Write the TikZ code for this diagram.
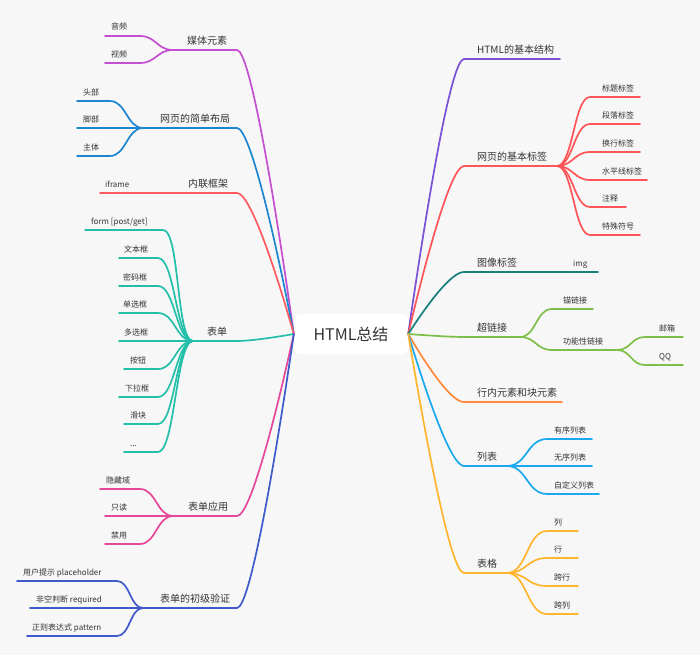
\documentclass[tikz,border=0pt]{standalone}
\usepackage{fontspec}
\setmainfont{Noto Sans CJK SC}
\definecolor{bg}{HTML}{F7F7F7}
\definecolor{txt}{HTML}{333333}
\definecolor{cmedia}{HTML}{C44FD0}
\definecolor{clayout}{HTML}{1E86CF}
\definecolor{ciframe}{HTML}{FF5A5F}
\definecolor{cform}{HTML}{22BFA9}
\definecolor{capp}{HTML}{E5489B}
\definecolor{cvalid}{HTML}{3F5BCB}
\definecolor{cstruct}{HTML}{7B4FD6}
\definecolor{ctags}{HTML}{FF5558}
\definecolor{cimage}{HTML}{17807E}
\definecolor{clink}{HTML}{7DBF48}
\definecolor{cinline}{HTML}{FF8A3D}
\definecolor{clist}{HTML}{1AA8EE}
\definecolor{ctable}{HTML}{FFB52E}
\tikzset{
  edge/.style={line width=1.7pt, line cap=round},
  leaf/.style={anchor=base west, inner sep=0pt, text=txt, font=\fontsize{8}{9}\selectfont},
  topic/.style={anchor=base west, inner sep=0pt, text=txt, font=\fontsize{10}{12}\selectfont},
  rootbox/.style={fill=white, rounded corners=6pt, minimum width=114pt, minimum height=40pt, inner sep=0pt, text=txt, font=\fontsize{16}{19}\selectfont}
}
\begin{document}
\begin{tikzpicture}[x=1pt,y=-1pt]
\useasboundingbox (0,0) rectangle (700,655);
\fill[bg] (0,0) rectangle (700,655);
\node[rootbox] (root) at (351,334) {HTML总结};

% ---------- LEFT ----------
% 媒体元素
\coordinate (mJ) at (173,50);
\coordinate (m1) at (105,36);
\coordinate (m2) at (105,63);
\draw[edge,cmedia] (root.west) .. controls (275,200.5) and (250,50) .. (237,50) -- (mJ);
\draw[edge,cmedia] (mJ) .. controls (157,50) and (156,36) .. (140,36) -- (m1);
\draw[edge,cmedia] (mJ) .. controls (157,50) and (156,63) .. (140,63) -- (m2);
\node[topic] (media) at (187,44.5) {媒体元素};
\node[leaf] (audio) at (111,30) {音频};
\node[leaf] (video) at (111,57.5) {视频};

% 网页的简单布局
\coordinate (lJ) at (143,128);
\coordinate (l1) at (77,101);
\coordinate (l2) at (77,128);
\coordinate (l3) at (77,156);
\draw[edge,clayout] (root.west) .. controls (275,237.2) and (250,128) .. (237,128) -- (lJ);
\draw[edge,clayout] (lJ) .. controls (127,128) and (126,101) .. (110,101) -- (l1);
\draw[edge,clayout] (lJ) -- (l2);
\draw[edge,clayout] (lJ) .. controls (127,128) and (126,156) .. (110,156) -- (l3);
\node[topic] (layout) at (160,122.5) {网页的简单布局};
\node[leaf] (head) at (83,95.5) {头部};
\node[leaf] (foot) at (83,122.5) {脚部};
\node[leaf] (body) at (83,150.5) {主体};

% 内联框架
\coordinate (iJ) at (180,193);
\coordinate (i1) at (100,193);
\draw[edge,ciframe] (root.west) .. controls (275,267.7) and (250,193) .. (237,193) -- (iJ);
\draw[edge,ciframe] (iJ) -- (i1);
\node[topic] (iframe) at (188,187.5) {内联框架};
\node[leaf] (iframeleaf) at (105,187.5) {iframe};

% 表单
\coordinate (fJ) at (193,341);
\coordinate (f1) at (85,230);
\coordinate (f2) at (119,258);
\coordinate (f3) at (119,286);
\coordinate (f4) at (119,313);
\coordinate (f5) at (119,341);
\coordinate (f6) at (124,369);
\coordinate (f7) at (119,397);
\coordinate (f8) at (124,424);
\coordinate (f9) at (124,452);
\draw[edge,cform] (root.west) .. controls (275,337.3) and (250,341) .. (237,341) -- (fJ);
\draw[edge,cform] (fJ) .. controls (176,341) and (180,230) .. (163,230) -- (f1);
\draw[edge,cform] (fJ) .. controls (176,341) and (175,258) .. (158,258) -- (f2);
\draw[edge,cform] (fJ) .. controls (176,341) and (175,286) .. (158,286) -- (f3);
\draw[edge,cform] (fJ) .. controls (176,341) and (175,313) .. (158,313) -- (f4);
\draw[edge,cform] (fJ) -- (f5);
\draw[edge,cform] (fJ) .. controls (176,341) and (175,369) .. (158,369) -- (f6);
\draw[edge,cform] (fJ) .. controls (176,341) and (175,397) .. (158,397) -- (f7);
\draw[edge,cform] (fJ) .. controls (176,341) and (175,424) .. (158,424) -- (f8);
\draw[edge,cform] (fJ) .. controls (176,341) and (175,452) .. (158,452) -- (f9);
\node[topic] (form) at (207,335.5) {表单};
\node[leaf] (fa) at (91,224.5) {form [post/get]};
\node[leaf] (fb) at (124,252.5) {文本框};
\node[leaf] (fc) at (123,280.5) {密码框};
\node[leaf] (fd) at (123,307.5) {单选框};
\node[leaf] (fe) at (124,335.5) {多选框};
\node[leaf] (ff) at (130,363.5) {按钮};
\node[leaf] (fg) at (125,391.5) {下拉框};
\node[leaf] (fh) at (130,418.5) {滑块};
\node[leaf] (fi) at (130,446.5) {...};

% 表单应用
\coordinate (aJ) at (173,516);
\coordinate (a1) at (100,489);
\coordinate (a2) at (105,516);
\coordinate (a3) at (105,544);
\draw[edge,capp] (root.west) .. controls (275,419.5) and (250,516) .. (237,516) -- (aJ);
\draw[edge,capp] (aJ) .. controls (157,516) and (156,489) .. (140,489) -- (a1);
\draw[edge,capp] (aJ) -- (a2);
\draw[edge,capp] (aJ) .. controls (157,516) and (156,544) .. (140,544) -- (a3);
\node[topic] (app) at (188,510.5) {表单应用};
\node[leaf] (hidden) at (106,483.5) {隐藏域};
\node[leaf] (readonly) at (111,510.5) {只读};
\node[leaf] (disabled) at (111,538.5) {禁用};

% 表单的初级验证
\coordinate (vJ) at (143,608);
\coordinate (v1) at (17,581);
\coordinate (v2) at (30,608);
\coordinate (v3) at (27,636);
\draw[edge,cvalid] (root.west) .. controls (275,462.8) and (250,608) .. (237,608) -- (vJ);
\draw[edge,cvalid] (vJ) .. controls (130,608) and (130,581) .. (117,581) -- (v1);
\draw[edge,cvalid] (vJ) -- (v2);
\draw[edge,cvalid] (vJ) .. controls (130,608) and (130,636) .. (117,636) -- (v3);
\node[topic] (valid) at (160,602.5) {表单的初级验证};
\node[leaf] (ph) at (23,575.5) {用户提示 placeholder};
\node[leaf] (req) at (36,602.5) {非空判断 required};
\node[leaf] (pat) at (32,630.5) {正则表达式 pattern};

% ---------- RIGHT ----------
% HTML的基本结构
\coordinate (sE) at (560,59);
\draw[edge,cstruct] (root.east) .. controls (427,204.7) and (451,59) .. (464,59) -- (sE);
\node[topic] (struct) at (477,53.5) {HTML的基本结构};

% 网页的基本标签
\coordinate (tJ) at (557,166);
\coordinate (t1) at (640,97);
\coordinate (t2) at (640,124);
\coordinate (t3) at (640,152);
\coordinate (t4) at (647,180);
\coordinate (t5) at (626,207);
\coordinate (t6) at (640,235);
\draw[edge,ctags] (root.east) .. controls (427,255) and (451,166) .. (464,166) -- (tJ);
\draw[edge,ctags] (tJ) .. controls (573,166) and (574,97) .. (590,97) -- (t1);
\draw[edge,ctags] (tJ) .. controls (573,166) and (574,124) .. (590,124) -- (t2);
\draw[edge,ctags] (tJ) .. controls (573,166) and (574,152) .. (590,152) -- (t3);
\draw[edge,ctags] (tJ) .. controls (573,166) and (574,180) .. (590,180) -- (t4);
\draw[edge,ctags] (tJ) .. controls (573,166) and (574,207) .. (590,207) -- (t5);
\draw[edge,ctags] (tJ) .. controls (573,166) and (574,235) .. (590,235) -- (t6);
\node[topic] (tags) at (477,160.5) {网页的基本标签};
\node[leaf] (ta) at (602,91.5) {标题标签};
\node[leaf] (tb) at (602,118.5) {段落标签};
\node[leaf] (tc) at (602,146.5) {换行标签};
\node[leaf] (td) at (602,174.5) {水平线标签};
\node[leaf] (te) at (602,201.5) {注释};
\node[leaf] (tf) at (602,229.5) {特殊符号};

% 图像标签
\coordinate (gJ) at (522,272);
\coordinate (g1) at (598,272);
\draw[edge,cimage] (root.east) .. controls (427,304.9) and (451,272) .. (464,272) -- (gJ);
\draw[edge,cimage] (gJ) -- (g1);
\node[topic] (image) at (477,266.5) {图像标签};
\node[leaf] (img) at (573,266.5) {img};

% 超链接
\coordinate (hJ) at (520,337);
\coordinate (h1) at (593,309);
\coordinate (hK) at (617,350);
\coordinate (k1) at (683,337);
\coordinate (k2) at (683,365);
\draw[edge,clink] (root.east) .. controls (427,335.4) and (451,337) .. (464,337) -- (hJ);
\draw[edge,clink] (hJ) .. controls (536,337) and (536,309) .. (552,309) -- (h1);
\draw[edge,clink] (hJ) .. controls (536,337) and (536,350) .. (552,350) -- (hK);
\draw[edge,clink] (hK) .. controls (631,350) and (631,337) .. (645,337) -- (k1);
\draw[edge,clink] (hK) .. controls (631,350) and (631,365) .. (645,365) -- (k2);
\node[topic] (link) at (477,331.5) {超链接};
\node[leaf] (anchor) at (563,303.5) {锚链接};
\node[leaf] (func) at (563,344.5) {功能性链接};
\node[leaf] (mail) at (659,331.5) {邮箱};
\node[leaf] (qq) at (659,359.5) {QQ};

% 行内元素和块元素
\coordinate (nE) at (562,402);
\draw[edge,cinline] (root.east) .. controls (427,366) and (451,402) .. (464,402) -- (nE);
\node[topic] (inline) at (477,396.5) {行内元素和块元素};

% 列表
\coordinate (lsJ) at (507,466);
\coordinate (ls1) at (592,439);
\coordinate (ls2) at (592,466);
\coordinate (ls3) at (599,494);
\draw[edge,clist] (root.east) .. controls (427,396) and (451,466) .. (464,466) -- (lsJ);
\draw[edge,clist] (lsJ) .. controls (527,466) and (527,439) .. (547,439) -- (ls1);
\draw[edge,clist] (lsJ) -- (ls2);
\draw[edge,clist] (lsJ) .. controls (527,466) and (527,494) .. (547,494) -- (ls3);
\node[topic] (list) at (477,460.5) {列表};
\node[leaf] (ol) at (554,433.5) {有序列表};
\node[leaf] (ul) at (554,460.5) {无序列表};
\node[leaf] (dl) at (554,488.5) {自定义列表};

% 表格
\coordinate (tbJ) at (507,573);
\coordinate (tb1) at (578,531);
\coordinate (tb2) at (578,558);
\coordinate (tb3) at (578,586);
\coordinate (tb4) at (578,614);
\draw[edge,ctable] (root.east) .. controls (427,446.3) and (451,573) .. (464,573) -- (tbJ);
\draw[edge,ctable] (tbJ) .. controls (527,573) and (527,531) .. (547,531) -- (tb1);
\draw[edge,ctable] (tbJ) .. controls (527,573) and (527,558) .. (547,558) -- (tb2);
\draw[edge,ctable] (tbJ) .. controls (527,573) and (527,586) .. (547,586) -- (tb3);
\draw[edge,ctable] (tbJ) .. controls (527,573) and (527,614) .. (547,614) -- (tb4);
\node[topic] (table) at (477,567.5) {表格};
\node[leaf] (col) at (554,525.5) {列};
\node[leaf] (row) at (554,552.5) {行};
\node[leaf] (rspan) at (554,580.5) {跨行};
\node[leaf] (cspan) at (554,608.5) {跨列};
\end{tikzpicture}
\end{document}
